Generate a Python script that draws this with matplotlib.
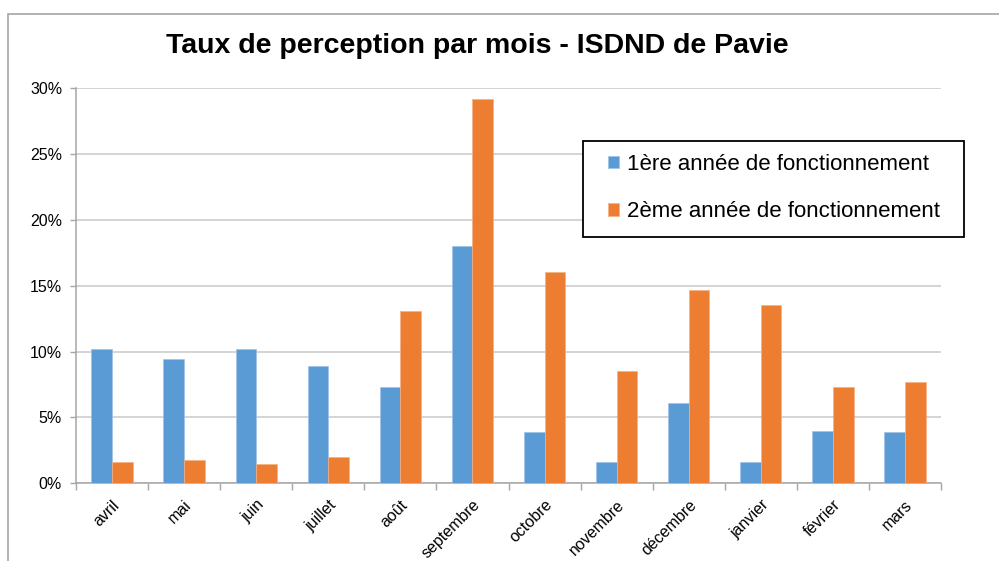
import matplotlib
matplotlib.use("Agg")
import matplotlib.pyplot as plt
import numpy as np
from matplotlib.patches import Rectangle
from matplotlib.ticker import FuncFormatter, FixedLocator

months = ["avril", "mai", "juin", "juillet", "août", "septembre", "octobre",
          "novembre", "décembre", "janvier", "février", "mars"]
year1 = [10.2, 9.4, 10.2, 8.9, 7.3, 18.0, 3.9, 1.6, 6.1, 1.6, 4.0, 3.9]
year2 = [1.6, 1.8, 1.5, 2.0, 13.1, 29.2, 16.0, 8.5, 14.7, 13.5, 7.3, 7.7]
series_names = ["1ère année de fonctionnement", "2ème année de fonctionnement"]
title = "Taux de perception par mois - ISDND de Pavie"

plt.rcParams['font.family'] = ['Liberation Sans', 'DejaVu Sans']

W, H = 999, 561
fig = plt.figure(figsize=(W / 100, H / 100), dpi=100)

# outer chart border
fig.patches.append(Rectangle((8 / W, -0.1), 1.2, (H - 14) / H + 0.1,
                             transform=fig.transFigure, fill=False,
                             edgecolor="#A6A6A6", linewidth=1.2))

ax = fig.add_axes([76 / W, (H - 483.3) / H, (941 - 76) / W, (483.3 - 88) / H])

x = np.arange(len(months))
w = 0.287
ax.bar(x - w / 2, year1, w, color="#5B9BD5", edgecolor="#9DC3E6", linewidth=0.5,
       label=series_names[0], zorder=3)
ax.bar(x + w / 2, year2, w, color="#ED7D31", edgecolor="#F4B183", linewidth=0.5,
       label=series_names[1], zorder=3)

ax.set_xlim(-0.5, len(months) - 0.5)
ax.set_ylim(0, 30)
ax.set_yticks(np.arange(0, 31, 5))
ax.yaxis.set_major_formatter(FuncFormatter(lambda v, p: f"{int(round(v))}%"))
ax.grid(axis="y", color="#C9C9C9", linewidth=1.1, zorder=0)

ax.set_xticks(x)
ax.set_xticklabels(months, rotation=45, ha="right", rotation_mode="anchor", fontsize=11.5)
ax.xaxis.set_minor_locator(FixedLocator(np.arange(-0.5, len(months), 1.0)))
ax.tick_params(axis="x", which="major", length=0, pad=10)
ax.tick_params(axis="x", which="minor", length=5, color="#A6A6A6", width=1)
ax.tick_params(axis="y", length=4, color="#A6A6A6", width=1, labelsize=11.5, pad=6)

for s in ["top", "right"]:
    ax.spines[s].set_visible(False)
for s in ["left", "bottom"]:
    ax.spines[s].set_color("#A6A6A6")
    ax.spines[s].set_linewidth(1.1)

fig.text(477 / W, 1 - 46 / H, title, ha="center", va="center",
         fontsize=20.5, fontweight="bold")

# legend frame (drawn in figure pixels)
fig.patches.append(Rectangle((583 / W, 1 - 237 / H), (964 - 583) / W, (237 - 141) / H,
                             transform=fig.transFigure, facecolor="white",
                             edgecolor="black", linewidth=1.3, zorder=4))

leg = fig.legend(*ax.get_legend_handles_labels(), loc="upper left",
                 bbox_to_anchor=(608 / W, 1 - 154 / H),
                 fontsize=16, frameon=False, handlelength=0.5,
                 handleheight=0.5, handletextpad=0.35, labelspacing=1.18,
                 borderpad=0, borderaxespad=0)
leg.set_zorder(5)

fig.savefig("out.png", dpi=100)
